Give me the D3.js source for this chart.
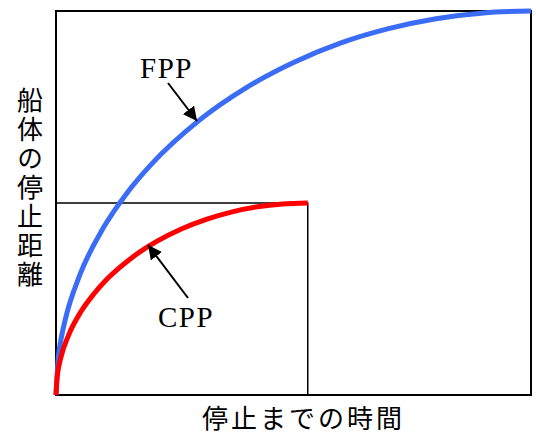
<!DOCTYPE html>
<meta charset="utf-8">
<head>
<title>FPP / CPP stopping distance</title>
<script type="text/javascript" src="https://d3js.org/d3.v7.min.js"></script>
<style>
    body { margin: 0; background: #fff; }
    .lbl { font-family: "Liberation Serif", "Times New Roman", serif; font-size: 29px; letter-spacing: 1.5px; }
    .jp { font-family: "Noto Sans CJK JP", sans-serif; font-size: 26px; }
</style>
</head>
<body>
<div id="chart"></div>
<script>
    // values (time and distance in % of the FPP maximum)
    var fppTime = [0, 0.5, 1, 2, 5, 10, 15, 20, 30, 40, 50, 60, 70, 80, 90, 100];
    var fppDist = [0, 10, 14.1, 19.9, 31.2, 43.6, 52.7, 60, 71.4, 80, 86.6, 91.7, 95.4, 98, 99.5, 100];
    var cppTime = [0, 0.27, 0.53, 1.06, 2.65, 5.3, 7.95, 10.6, 15.9, 21.2, 26.5, 31.8, 37.1, 42.4, 47.7, 53];
    var cppDist = [0, 5, 7.05, 9.95, 15.6, 21.8, 26.3, 30, 35.7, 40, 43.3, 45.8, 47.7, 49, 49.75, 50];
    var seriesNames = ["FPP", "CPP"];
    var xTitle = "停止までの時間";
    var yTitle = "船体の停止距離";

    var width = 536, height = 434;
    var margin = {top: 11, right: 5, bottom: 39, left: 56};

    var svg = d3.select("#chart").append("svg")
        .attr("width", width).attr("height", height);

    var x = d3.scaleLinear().domain([0, 100]).range([margin.left, width - margin.right]);
    var y = d3.scaleLinear().domain([0, 100]).range([height - margin.bottom, margin.top]);

    var fpp = fppTime.map(function (t, i) { return [t, fppDist[i]]; });
    var cpp = cppTime.map(function (t, i) { return [t, cppDist[i]]; });
    var cppEnd = cpp[cpp.length - 1];

    var line = d3.line()
        .x(function (d) { return x(d[0]); })
        .y(function (d) { return y(d[1]); })
        .curve(d3.curveMonotoneX);

    // arrow head
    svg.append("defs").append("marker")
        .attr("id", "arr")
        .attr("viewBox", "0 0 10 10")
        .attr("refX", 10).attr("refY", 5)
        .attr("markerWidth", 7).attr("markerHeight", 7)
        .attr("markerUnits", "strokeWidth")
        .attr("orient", "auto")
        .append("path").attr("d", "M0,0 L10,5 L0,10 Z").attr("fill", "#000");

    // outer frame
    svg.append("rect")
        .attr("x", x(0)).attr("y", y(100))
        .attr("width", x(100) - x(0)).attr("height", y(0) - y(100))
        .attr("fill", "none").attr("stroke", "#000").attr("stroke-width", 2);

    // inner frame at the CPP end point
    svg.append("path")
        .attr("d", "M" + x(0) + "," + y(cppEnd[1]) + "H" + x(cppEnd[0]) + "V" + y(0))
        .attr("fill", "none").attr("stroke", "#000").attr("stroke-width", 1.5);

    svg.append("path").datum(fpp)
        .attr("d", line)
        .attr("fill", "none").attr("stroke", "#3a6cf5").attr("stroke-width", 5);

    svg.append("path").datum(cpp)
        .attr("d", line)
        .attr("fill", "none").attr("stroke", "#ff0000").attr("stroke-width", 5);

    // labels + arrows
    svg.append("text").attr("class", "lbl")
        .attr("x", 140).attr("y", 78).text(seriesNames[0]);
    svg.append("line")
        .attr("x1", 168).attr("y1", 83).attr("x2", 197).attr("y2", 121)
        .attr("stroke", "#000").attr("stroke-width", 2).attr("marker-end", "url(#arr)");

    svg.append("text").attr("class", "lbl")
        .attr("x", 158).attr("y", 327).text(seriesNames[1]);
    svg.append("line")
        .attr("x1", 188).attr("y1", 298).attr("x2", 148).attr("y2", 245)
        .attr("stroke", "#000").attr("stroke-width", 2).attr("marker-end", "url(#arr)");

    // axis titles
    svg.append("text").attr("class", "jp")
        .attr("x", 202).attr("y", 428)
        .attr("letter-spacing", "3px")
        .text(xTitle);

    svg.append("text").attr("class", "jp")
        .attr("x", 30).attr("y", 87)
        .style("writing-mode", "vertical-rl")
        .attr("letter-spacing", "3px")
        .text(yTitle);
</script>
</body>
</html>
